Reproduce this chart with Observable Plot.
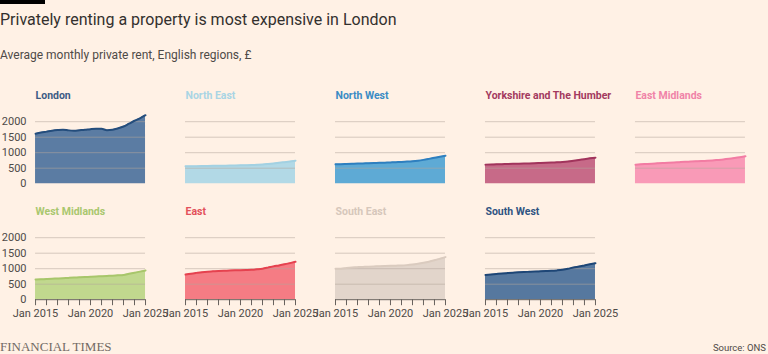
<!DOCTYPE html>
<html>
<head>
<meta charset="utf-8">
<script src="https://cdn.jsdelivr.net/npm/d3@7"></script>
<script src="https://cdn.jsdelivr.net/npm/@observablehq/plot@0.6"></script>
<style>
  html, body { margin: 0; padding: 0; background: #fff1e5; }
  body { width: 768px; height: 354px; overflow: hidden; position: relative; font-family: Roboto, "Noto Sans", sans-serif; }
  #bar { position: absolute; left: 0; top: 0; width: 45px; height: 4px; background: #000; }
  #title { position: absolute; left: 0; top: 10px; font-size: 16px; color: #33302e; white-space: nowrap; }
  #subtitle { position: absolute; left: 0; top: 48px; font-size: 12px; color: #4e4a47; white-space: nowrap; }
  #row1 { position: absolute; left: 0; top: 80px; }
  #row2 { position: absolute; left: 0; top: 196px; }
  #ft { position: absolute; left: 0; top: 339px; font-family: "Liberation Serif", serif; font-size: 13px; color: #726a64; white-space: nowrap; }
  #source { position: absolute; right: 2px; top: 342px; font-size: 9.5px; color: #4e4a47; white-space: nowrap; }
</style>
</head>
<body>
<div id="bar"></div>
<div id="title">Privately renting a property is most expensive in London</div>
<div id="subtitle">Average monthly private rent, English regions, £</div>
<div id="row1"></div>
<div id="row2"></div>
<div id="ft">FINANCIAL TIMES</div>
<div id="source">Source: ONS</div>
<script>
// Half-yearly observation dates
const dates = [
  "2015-01-01","2015-07-01","2016-01-01","2016-07-01","2017-01-01","2017-07-01",
  "2018-01-01","2018-07-01","2019-01-01","2019-07-01","2020-01-01","2020-07-01",
  "2021-01-01","2021-07-01","2022-01-01","2022-07-01","2023-01-01","2023-07-01",
  "2024-01-01","2024-07-01","2025-01-01"
];

const regions = ["London","North East","North West","Yorkshire and The Humber","East Midlands",
                 "West Midlands","East","South East","South West"];

// Average monthly private rent, £
const london        = [1613,1650,1680,1710,1730,1742,1720,1710,1725,1740,1760,1772,1770,1725,1740,1785,1845,1935,2030,2110,2210];
const northEast     = [560,563,566,569,572,575,578,581,584,588,592,597,602,610,620,635,652,672,695,718,742];
const northWest     = [624,630,636,642,648,654,660,666,672,679,686,694,702,712,724,742,768,800,835,870,903];
const yorkshire     = [615,620,625,630,635,640,645,650,655,660,666,672,680,690,702,718,740,765,792,817,840];
const eastMidlands  = [613,625,636,647,657,667,677,686,695,704,712,720,728,738,750,765,782,803,828,855,882];
const westMidlands  = [649,658,667,676,685,694,703,712,721,730,739,748,757,766,775,787,800,835,870,905,940];
const east          = [811,840,865,888,905,915,925,932,940,947,953,958,965,980,1000,1035,1075,1105,1140,1180,1222];
const southEast     = [995,1000,1025,1042,1050,1058,1066,1073,1080,1087,1093,1098,1103,1115,1135,1160,1190,1225,1270,1320,1373];
const southWest     = [800,815,830,845,858,870,882,892,900,908,915,922,930,945,965,995,1040,1070,1105,1140,1178];

const seriesValues = [london, northEast, northWest, yorkshire, eastMidlands, westMidlands, east, southEast, southWest];

const titleColors = ["#3b5b84","#a9d5e4","#3a8bc4","#a33a5f","#f083a8","#a9c76e","#e3505a","#d6c7bb","#2f5482"];
const areaColors  = ["#5b7ca3","#b2d9e6","#5eaad5","#c76a88","#f99ab7","#c1d88e","#f57c84","#e2d5cb","#56789f"];
const lineColors  = ["#244d7c","#a3d1e2","#2e7fbf","#a1345c","#f27ca3","#a8c66b","#e5424f","#dacbbf","#1e4676"];

const yTicks = [0, 500, 1000, 1500, 2000];
const tickYears = d3.range(2015, 2026);

const panels = regions.map((name, i) => ({name, col: i % 5, row: Math.floor(i / 5), i}));

function rowPlot(rowIndex, showX) {
  const ps = panels.filter(p => p.row === rowIndex);
  const nCols = ps.length;
  const step = 150.3, band = 110.5;
  const rangeWidth = (nCols - 1) * step + band;
  const marks = [];
  ps.forEach(p => {
    const data = dates.map((d, j) => ({date: new Date(d), value: seriesValues[p.i][j], col: p.col}));
    marks.push(Plot.areaY(data, {x: "date", y: "value", fx: "col", fill: areaColors[p.i], curve: "monotone-x"}));
  });
  marks.push(Plot.gridY(yTicks.filter(t => t > 0), {stroke: "#b3a69c", strokeOpacity: 0.55}));
  ps.forEach(p => {
    const data = dates.map((d, j) => ({date: new Date(d), value: seriesValues[p.i][j], col: p.col}));
    marks.push(Plot.lineY(data, {x: "date", y: "value", fx: "col", stroke: lineColors[p.i], strokeWidth: 2, curve: "monotone-x"}));
    marks.push(Plot.text([p], {fx: "col", text: "name", fill: titleColors[p.i], frameAnchor: "top-left", lineAnchor: "middle", dy: -20, fontWeight: "bold", fontSize: 10.5}));
  });
  marks.push(Plot.axisY({facetAnchor: "left", ticks: yTicks, tickFormat: d => String(d), tickSize: 0, tickPadding: 9, label: null, fontSize: 11, fill: "#4e4a47"}));
  if (showX) {
    marks.push(Plot.ruleY([0], {stroke: "#66605c"}));
    marks.push(Plot.axisX({
      ticks: tickYears.map(y => new Date(Date.UTC(y, 0, 1))),
      tickFormat: d => d.getUTCFullYear() % 5 === 0 ? `Jan ${d.getUTCFullYear()}` : "",
      tickSize: 6, tickPadding: 3, label: null, fontSize: 11, fill: "#4e4a47", stroke: "#66605c"
    }));
  } else {
    marks.push(Plot.axisX({ticks: []}));
  }
  const marginTop = 35, frameH = 68.2, marginBottom = showX ? 24 : 5;
  return Plot.plot({
    width: 768,
    height: marginTop + frameH + marginBottom,
    marginTop,
    marginBottom,
    marginLeft: 34,
    marginRight: 768 - 34 - rangeWidth,
    style: {background: "transparent", fontFamily: "Roboto, sans-serif", color: "#4e4a47", overflow: "visible"},
    fx: {axis: null, domain: ps.map(p => p.col), paddingInner: 1 - band / step, paddingOuter: 0},
    x: {type: "utc", domain: [new Date("2015-01-01"), new Date("2025-01-01")]},
    y: {domain: [0, 2200]},
    marks
  });
}

document.getElementById("row1").appendChild(rowPlot(0, false));
document.getElementById("row2").appendChild(rowPlot(1, true));
</script>
</body>
</html>
